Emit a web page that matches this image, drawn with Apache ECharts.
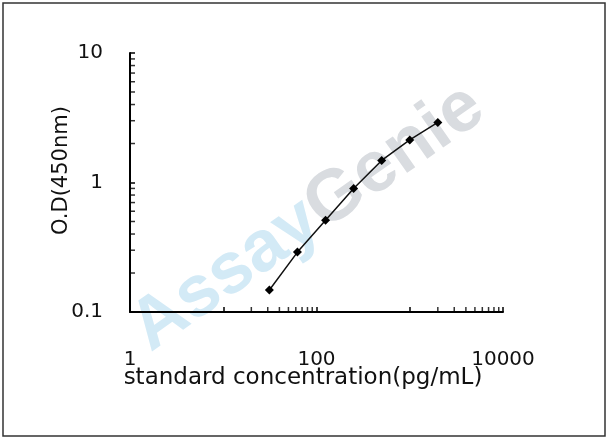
<!DOCTYPE html>
<html>
<head>
<meta charset="utf-8">
<title>Standard curve</title>
<script src="https://cdn.jsdelivr.net/npm/echarts@6/dist/echarts.min.js"></script>
<style>
  html, body { margin: 0; padding: 0; background: #fff; }
  #chart { width: 608px; height: 441px; }
</style>
</head>
<body>
<div id="chart"></div>
<script>
// standard concentration (pg/mL) and measured O.D at 450nm
const concentrations = [31.25, 62.5, 125, 250, 500, 1000, 2000];
const odValues = [0.148, 0.29, 0.51, 0.90, 1.48, 2.13, 2.91];

// tick labels shown on each axis
const xTickLabels = ['1', '100', '10000'];
const yTickLabels = ['0.1', '1', '10'];

// minor tick positions (the source only marks two of the x decades)
const xMinorTicks = [20, 30, 40, 50, 60, 70, 80, 90, 2000, 3000, 4000, 5000, 6000, 7000, 8000, 9000];
const yMinorTicks = [0.2, 0.3, 0.4, 0.5, 0.6, 0.7, 0.8, 0.9, 2, 3, 4, 5, 6, 7, 8, 9];

const textColor = '#111';
const labelFont = 'DejaVu Sans';

const chart = echarts.init(document.getElementById('chart'), null, { renderer: 'canvas' });

// keep only the labels listed for that axis
const labelsFrom = list => v => {
  const s = String(+Number(v).toPrecision(3));
  return list.includes(s) ? s : '';
};

chart.setOption({
  animation: false,
  backgroundColor: '#fff',
  grid: { left: 130, right: 105, top: 53, bottom: 129 },
  xAxis: {
    type: 'log',
    logBase: 10,
    min: 1,
    max: 10000,
    name: 'standard concentration(pg/mL)',
    nameLocation: 'middle',
    nameGap: 55,
    nameMoveOverlap: false,
    nameTextStyle: { color: textColor, fontFamily: labelFont, fontSize: 23, padding: [0, 27, 0, 0] },
    axisLine: { lineStyle: { color: '#000', width: 2 } },
    axisTick: { inside: true, length: 5, lineStyle: { color: '#000', width: 1.5 } },
    axisLabel: { color: textColor, fontFamily: labelFont, fontSize: 20, margin: 38, formatter: labelsFrom(xTickLabels), showMinLabel: true, showMaxLabel: true },
    splitLine: { show: false }
  },
  yAxis: {
    type: 'log',
    logBase: 10,
    min: 0.1,
    max: 10,
    name: 'O.D(450nm)',
    nameLocation: 'middle',
    nameRotate: 90,
    nameGap: 58,
    nameMoveOverlap: false,
    nameTextStyle: { color: textColor, fontFamily: labelFont, fontSize: 21, padding: [0, 0, 0, 24] },
    axisLine: { lineStyle: { color: '#000', width: 2 } },
    axisTick: { inside: true, length: 5, lineStyle: { color: '#000', width: 1.5 } },
    axisLabel: { color: textColor, fontFamily: labelFont, fontSize: 20, margin: 27, formatter: labelsFrom(yTickLabels) },
    splitLine: { show: false }
  },
  graphic: [
    {
      type: 'rect',
      shape: { x: 3, y: 3, width: 602, height: 433 },
      style: { fill: 'none', stroke: '#333', lineWidth: 1.5 },
      z: 0
    },
    {
      type: 'text',
      x: 308, y: 218,
      rotation: 35 * Math.PI / 180,
      z: 0,
      style: {
        text: '{a|Assay}{g|Genie}',
        align: 'center',
        verticalAlign: 'middle',
        rich: {
          a: { fill: '#d3eaf6', fontFamily: 'Liberation Sans', fontWeight: 'bold', fontSize: 72 },
          g: { fill: '#d9dce0', fontFamily: 'Liberation Sans', fontWeight: 'bold', fontSize: 72 }
        }
      }
    }
  ],
  series: [
    {
      type: 'scatter',
      silent: true,
      clip: false,
      symbol: 'rect',
      symbolSize: [1.5, 5],
      symbolOffset: [0, -2.5],
      itemStyle: { color: '#000' },
      data: xMinorTicks.map(v => [v, 0.1])
    },
    {
      type: 'scatter',
      silent: true,
      clip: false,
      symbol: 'rect',
      symbolSize: [5, 1.5],
      symbolOffset: [2.5, 0],
      itemStyle: { color: '#000' },
      data: yMinorTicks.map(v => [1, v])
    },
    {
      type: 'line',
      z: 5,
      data: concentrations.map((c, i) => [c, odValues[i]]),
      symbol: 'diamond',
      symbolSize: 9,
      lineStyle: { color: '#111', width: 1.5 },
      itemStyle: { color: '#000' }
    }
  ]
});
</script>
</body>
</html>
